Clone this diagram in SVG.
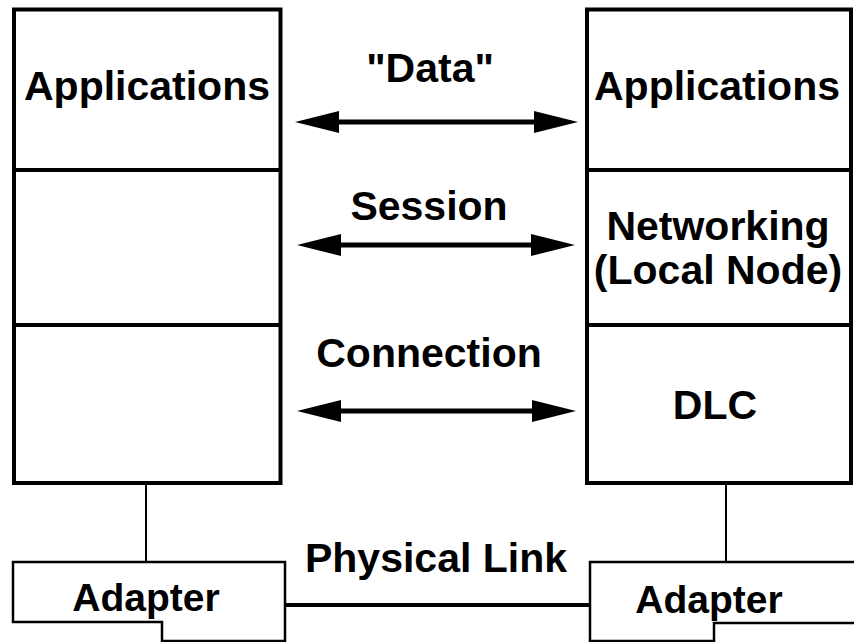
<svg xmlns="http://www.w3.org/2000/svg" width="854" height="642" viewBox="0 0 854 642">
<style>
.box{fill:#fff;stroke:#000;stroke-width:4}
.div{stroke:#000;stroke-width:4}
.thin{stroke:#000;stroke-width:2;fill:none}
.adp{fill:#fff;stroke:#000;stroke-width:2.5}
.arr{stroke:#000;stroke-width:5;fill:none}
.link{stroke:#000;stroke-width:4}
text{font-family:"Liberation Sans",Arial,Helvetica,sans-serif;font-weight:bold;font-size:41px;fill:#000;text-anchor:middle}
.sm{font-size:39px}
</style>
<defs>
<marker id="ah" viewBox="0 0 44 22" refX="14" refY="11" markerWidth="44" markerHeight="22" markerUnits="userSpaceOnUse" orient="auto-start-reverse">
<path d="M0,0 L44,11 L0,22 z" fill="#000"/>
</marker>
</defs>
<rect width="854" height="642" fill="#fff"/>
<g id="connectors">
<line class="thin" x1="146" y1="483" x2="146" y2="562"/>
<line class="thin" x1="726" y1="483" x2="726" y2="562"/>
<line class="link" x1="284" y1="605" x2="590" y2="605"/>
<line class="arr" x1="325" y1="122" x2="548" y2="122" marker-start="url(#ah)" marker-end="url(#ah)"/>
<line class="arr" x1="327" y1="245" x2="545" y2="245" marker-start="url(#ah)" marker-end="url(#ah)"/>
<line class="arr" x1="327" y1="411" x2="546" y2="411" marker-start="url(#ah)" marker-end="url(#ah)"/>
</g>
<g id="left-stack">
<rect class="box" x="14" y="9.5" width="266.5" height="473.5"/>
<line class="div" x1="14" y1="170" x2="280.5" y2="170"/>
<line class="div" x1="14" y1="325" x2="280.5" y2="325"/>
<text x="147" y="100">Applications</text>
</g>
<g id="right-stack">
<rect class="box" x="587" y="9.5" width="264" height="473.5"/>
<line class="div" x1="587" y1="170" x2="851" y2="170"/>
<line class="div" x1="587" y1="325" x2="851" y2="325"/>
<text x="717" y="100">Applications</text>
<text x="718" y="240">Networking</text>
<text x="718" y="284">(Local Node)</text>
<text x="715" y="419">DLC</text>
</g>
<g id="labels">
<text x="430" y="82">"Data"</text>
<text x="429" y="220">Session</text>
<text x="429" y="367">Connection</text>
<text x="436" y="572">Physical Link</text>
</g>
<g id="adapter-left">
<path class="adp" d="M13,562 H285 V641 H162 V622 H13 Z"/>
<text class="sm" x="146" y="611">Adapter</text>
</g>
<g id="adapter-right">
<path class="adp" d="M590,562 H858 V623 H714 V641 H590 Z"/>
<text class="sm" x="709" y="613">Adapter</text>
</g>
</svg>
